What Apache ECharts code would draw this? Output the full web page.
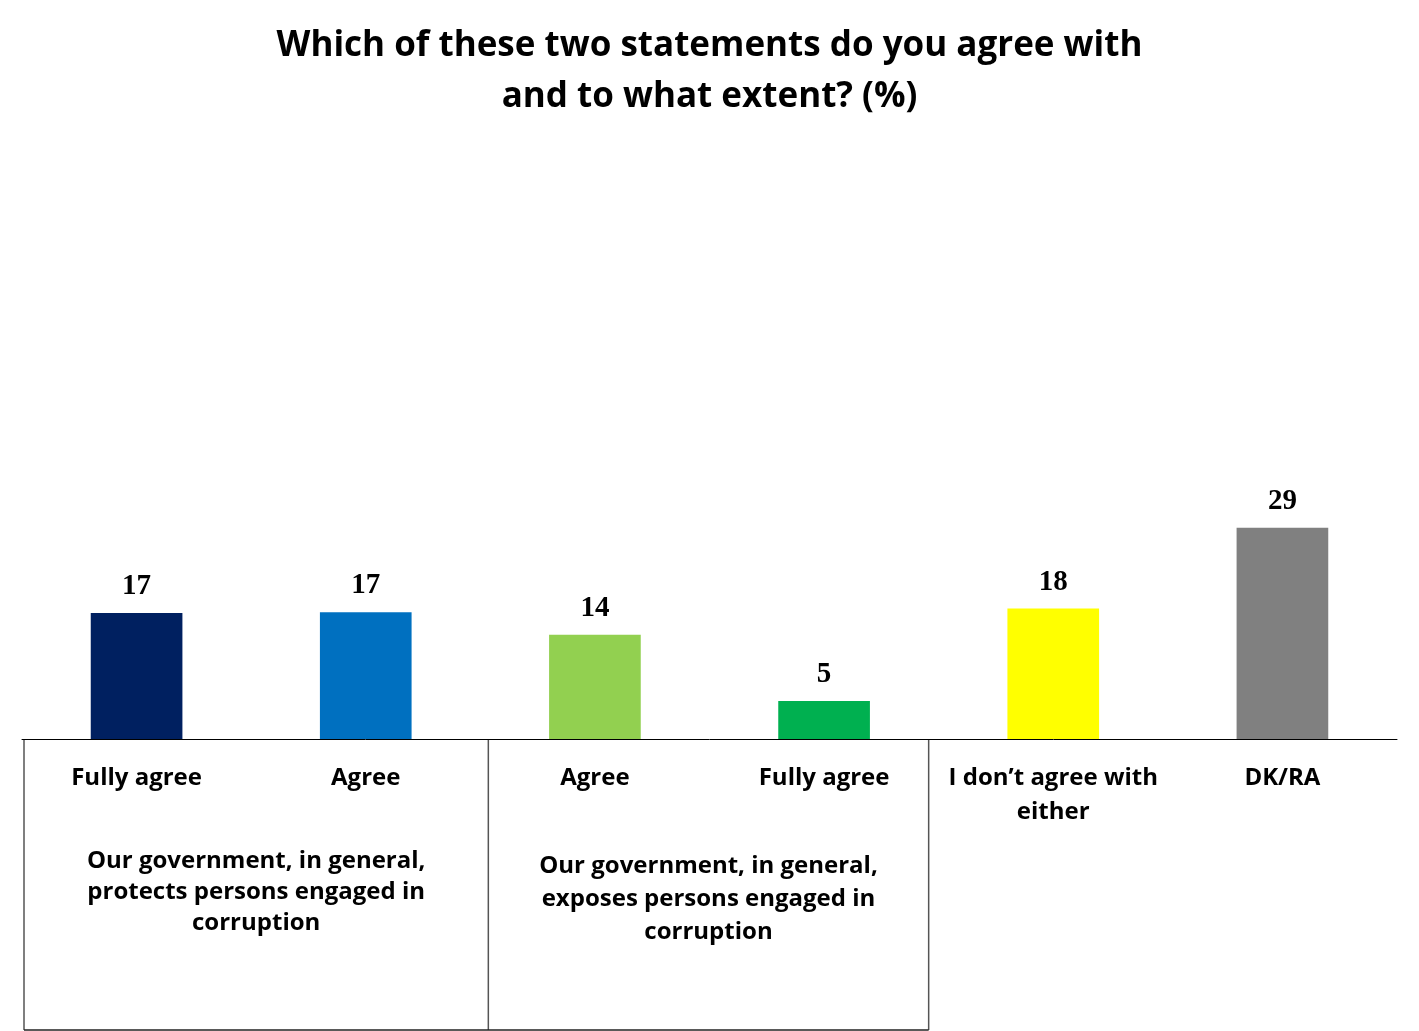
<!DOCTYPE html>
<html>
<head>
<meta charset="utf-8">
<script src="https://cdn.jsdelivr.net/npm/echarts@6.0.0/dist/echarts.min.js"></script>
<style>
html,body{margin:0;padding:0;background:#fff;}
#chart{width:1419px;height:1031px;}
</style>
</head>
<body>
<div id="chart"></div>
<script>
var categories = ['Fully agree', 'Agree', 'Agree', 'Fully agree', 'I don\u2019t agree with\neither', 'DK/RA'];
var values = [17.3, 17.4, 14.3, 5.2, 17.9, 29.0];
var barColors = ['#002060', '#0070C0', '#92D050', '#00B050', '#FFFF00', '#808080'];
var groupLabels = [
  'Our government, in general,\nprotects persons engaged in\ncorruption',
  'Our government, in general,\nexposes persons engaged in\ncorruption'
];
var titleText = 'Which of these two statements do you agree with\nand to what extent? (%)';

var chart = echarts.init(document.getElementById('chart'));
var option = {
  animation: false,
  backgroundColor: '#fff',
  title: {
    text: titleText,
    left: 'center',
    top: 16,
    textStyle: {
      fontFamily: 'Open Sans',
      fontWeight: 'bold',
      fontSize: 35,
      lineHeight: 51,
      color: '#000'
    }
  },
  grid: { left: 22, right: 22, top: 229, bottom: 292, containLabel: false },
  xAxis: {
    type: 'category',
    data: categories,
    axisLine: { show: true, lineStyle: { color: '#000', width: 1 } },
    axisTick: { show: false },
    axisLabel: {
      interval: 0,
      margin: 22,
      fontFamily: 'Open Sans',
      fontWeight: 'bold',
      fontSize: 24,
      lineHeight: 34,
      color: '#000'
    }
  },
  yAxis: {
    type: 'value',
    min: 0,
    max: 70,
    show: false,
    splitLine: { show: false }
  },
  series: [{
    type: 'bar',
    barWidth: '40%',
    data: values.map(function (v, i) {
      return { value: v, itemStyle: { color: barColors[i] } };
    }),
    label: {
      show: true,
      position: 'top',
      distance: 12,
      formatter: function (p) { return Math.round(p.value); },
      fontFamily: 'Liberation Serif',
      fontWeight: 'bold',
      fontSize: 29,
      color: '#000'
    }
  }]
};
chart.setOption(option);

function drawGroups() {
  var c = categories.map(function (_, i) { return chart.convertToPixel({ xAxisIndex: 0 }, i); });
  var band = c[1] - c[0];
  var axisY = chart.convertToPixel({ yAxisIndex: 0 }, 0);
  var bottomY = 1030;
  var left = c[0] - band / 2 + 2;
  var mid = c[1] + band / 2 + 8;
  var right = c[3] + band / 2 - 10;
  var lineStyle = { stroke: '#555', lineWidth: 1.5 };
  var els = [
    { type: 'line', shape: { x1: left, y1: axisY, x2: left, y2: bottomY }, style: lineStyle },
    { type: 'line', shape: { x1: mid, y1: axisY, x2: mid, y2: bottomY }, style: lineStyle },
    { type: 'line', shape: { x1: right, y1: axisY, x2: right, y2: bottomY }, style: lineStyle },
    { type: 'line', shape: { x1: left, y1: bottomY, x2: right, y2: bottomY }, style: { stroke: '#222', lineWidth: 1.5 } },
    {
      type: 'text', x: (left + mid) / 2, y: axisY + 107,
      style: { text: groupLabels[0], align: 'center', verticalAlign: 'top',
        font: 'bold 24px "Open Sans"', lineHeight: 31, fill: '#000' }
    },
    {
      type: 'text', x: (mid + right) / 2, y: axisY + 111,
      style: { text: groupLabels[1], align: 'center', verticalAlign: 'top',
        font: 'bold 24px "Open Sans"', lineHeight: 33, fill: '#000' }
    }
  ];
  chart.setOption({ graphic: { elements: els } });
}
drawGroups();
</script>
</body>
</html>
